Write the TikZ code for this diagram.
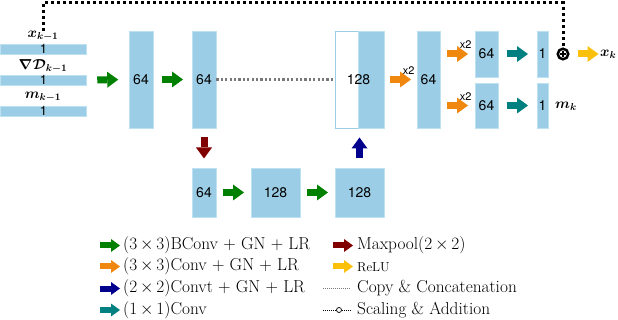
\documentclass[tikz,border=0pt]{standalone}
\usepackage{amsmath}
\usepackage{bm}
\usepackage{fontspec}
\newfontfamily\hel{TeX Gyre Heros}
\usetikzlibrary{arrows.meta,calc}
\definecolor{lblue}{RGB}{155,206,230}
\definecolor{lblueE}{RGB}{190,225,242}
\definecolor{cgreen}{RGB}{0,128,0}
\definecolor{corange}{RGB}{240,135,15}
\definecolor{cnavy}{RGB}{0,0,140}
\definecolor{cteal}{RGB}{0,128,128}
\definecolor{cmaroon}{RGB}{128,0,0}
\definecolor{cyellow}{RGB}{250,192,10}
\definecolor{cgray}{RGB}{120,120,120}
\tikzset{
  blk/.style={rectangle, fill=lblue, draw=lblueE, line width=0.8pt, inner sep=0pt,
    minimum width=#1, font=\hel\fontsize{14}{14}\selectfont},
  inblk/.style={blk=86pt, minimum height=10pt, font=\hel\fontsize{13}{13}\selectfont},
  fatbase/.style={line width=7pt, draw=#1, -{Triangle[length=11pt,width=16pt,line width=0pt]}},
  legfat/.style={line width=6pt, draw=#1, -{Triangle[length=9pt,width=13pt,line width=0pt]}},
  fat/.style={fatbase=#1,
    to path={($(\tikztostart)!0.5!(\tikztotarget)!10.5pt!(\tikztostart)$) -- ($(\tikztostart)!0.5!(\tikztotarget)!10.5pt!(\tikztotarget)$)}},
  xtwo/.style={font=\hel\fontsize{11}{11}\selectfont, inner sep=0pt},
  lbl/.style={font=\fontsize{14}{14}\selectfont, inner sep=0pt},
  legtxt/.style={anchor=west, inner sep=0pt, font=\fontsize{17.3}{18}\selectfont},
  copyline/.style={draw=cgray, line width=2.2pt, dash pattern=on 2.2pt off 2.2pt},
  skipline/.style={draw=black, line width=3pt, dash pattern=on 3pt off 3pt},
}
\begin{document}
\begin{tikzpicture}[x=1pt,y=-1pt]
\useasboundingbox (0,0) rectangle (618,320);
% inputs
\node[inblk] (in1) at (43.5,49) {1};
\node[inblk] (in2) at (43.5,80) {1};
\node[inblk] (in3) at (43.5,111) {1};
\node[lbl] (lx) at (43,36) {$\bm{x_{k-1}}$};
\node[lbl] (ld) at (43,66) {$\bm{\nabla\mathcal{D}_{k-1}}$};
\node[lbl] (lm) at (43,97) {$\bm{m_{k-1}}$};
% encoder
\node[blk=24pt, minimum height=97pt] (b1) at (141,79.5) {64};
\node[blk=24pt, minimum height=97pt] (b2) at (204,79.5) {64};
\node[blk=24pt, minimum height=49pt] (c1) at (204,192.5) {64};
\node[blk=49pt, minimum height=49pt] (c2) at (275.5,192.5) {128};
\node[blk=49pt, minimum height=49pt] (c3) at (359.5,192.5) {128};
% decoder
\node[blk=23pt, minimum height=97pt, fill=white, draw=lblue] (b3w) at (346.5,79.5) {};
\node[blk=26pt, minimum height=97pt] (b3) at (371,79.5) {};
\node[font=\hel\fontsize{14}{14}\selectfont, inner sep=0pt] (t128) at (358.5,80) {128};
\node[blk=23pt, minimum height=97pt] (b4) at (428.5,79.5) {64};
\node[blk=23pt, minimum height=46pt] (b5) at (486.5,54) {64};
\node[blk=23pt, minimum height=45pt] (b6) at (486.5,105.5) {64};
\node[blk=11pt, minimum height=46pt] (b7) at (542.5,54) {1};
\node[blk=11pt, minimum height=45pt] (b8) at (542.5,105.5) {1};
\node[circle, draw, line width=2.5pt, minimum size=10.5pt, inner sep=0pt] (add) at (563,54) {};
\draw[line width=1.6pt] ($(add.center)+(-3.2,0)$) -- ($(add.center)+(3.2,0)$);
\draw[line width=1.6pt] ($(add.center)+(0,-3.2)$) -- ($(add.center)+(0,3.2)$);
\node[lbl, anchor=west] (xk) at (600,54) {$\bm{x_k}$};
\node[lbl, anchor=west] (mk) at (555,106) {$\bm{m_k}$};
% connectors
\draw[copyline] (b2.east) -- (b3w.west);
\coordinate (top) at (0,3);
\draw[skipline] (lx.north) -- (lx.north |- top) -| (add.north);
% fat arrows
\draw[fat=cgreen] (in2.east) to (b1.west);
\draw[fat=cgreen] (b1.east) to (b2.west);
\draw[fat=cmaroon] (b2.south) to (c1.north);
\draw[fat=cgreen] (c1.east) to (c2.west);
\draw[fat=cgreen] (c2.east) to (c3.west);
\draw[fat=cnavy] (c3.north) to (c3.north |- b3.south);
\draw[fat=corange] (b3.east) to (b4.west);
\draw[fat=corange] (b4.east |- b5) to (b5.west);
\draw[fat=corange] (b4.east |- b6) to (b6.west);
\draw[fat=cteal] (b5.east) to (b7.west);
\draw[fat=cteal] (b6.east) to (b8.west);
\coordinate (ya) at (577.5,54);
\coordinate (yb) at (598.5,54);
\draw[fatbase=cyellow] (ya) -- (yb);
\node[xtwo] (x2a) at ($(b4.west)+(-8,-9)$) {x2};
\node[xtwo] (x2b) at ($(b5.west)+(-9,-9)$) {x2};
\node[xtwo] (x2c) at ($(b6.west)+(-9,-9)$) {x2};
% legend
\coordinate (l1a) at (100,245.5);  \coordinate (l1b) at (120,245.5);
\coordinate (l2a) at (100,266.5);  \coordinate (l2b) at (120,266.5);
\coordinate (l3a) at (100,288.5);  \coordinate (l3b) at (120,288.5);
\coordinate (l4a) at (100,310);    \coordinate (l4b) at (120,310);
\coordinate (l5a) at (333,245.5);  \coordinate (l5b) at (353,245.5);
\coordinate (l6a) at (333,266.5);  \coordinate (l6b) at (353,266.5);
\draw[legfat=cgreen] (l1a) -- (l1b);
\draw[legfat=corange] (l2a) -- (l2b);
\draw[legfat=cnavy] (l3a) -- (l3b);
\draw[legfat=cteal] (l4a) -- (l4b);
\draw[legfat=cmaroon] (l5a) -- (l5b);
\draw[legfat=cyellow] (l6a) -- (l6b);
\node[legtxt] (t1) at (123,245) {(3\,$\times$\,3)BConv + GN + LR};
\node[legtxt] (t2) at (123,266.5) {(3\,$\times$\,3)Conv + GN + LR};
\node[legtxt] (t3) at (123,288) {(2\,$\times$\,2)Convt + GN + LR};
\node[legtxt] (t4) at (123,310) {(1\,$\times$\,1)Conv};
\node[legtxt] (t5) at (357,245) {Maxpool(2\,$\times$\,2)};
\node[legtxt, font=\fontsize{13}{13}\selectfont] (t6) at (357,267.5) {ReLU};
\coordinate (c3a) at (323,288);
\coordinate (c3b) at (351,288);
\draw[draw=cgray, line width=1pt, dash pattern=on 1pt off 1pt] (c3a) -- (c3b);
\node[legtxt] (t7) at (357,288) {Copy \& Concatenation};
\coordinate (c4a) at (323,310);
\coordinate (c4b) at (351,310);
\node[circle, draw, line width=0.7pt, minimum size=5pt, inner sep=0pt] (c4c) at (339,310) {};
\draw[line width=1pt, dash pattern=on 1pt off 1pt] (c4a) -- (c4c.west);
\draw[line width=1pt, dash pattern=on 1pt off 1pt] (c4c.east) -- (c4b);
\node[legtxt] (t8) at (357,310) {Scaling \& Addition};
\end{tikzpicture}
\end{document}
